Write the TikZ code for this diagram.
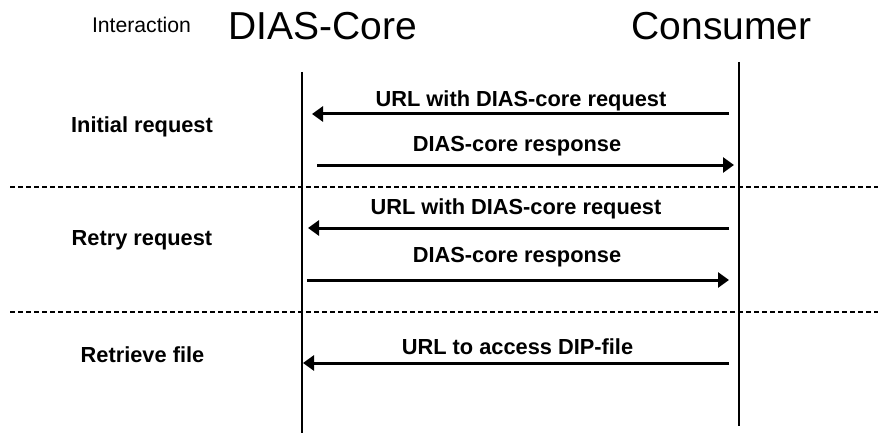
\documentclass[tikz,border=0pt]{standalone}
\usepackage{fontspec}
\setmainfont{Liberation Sans}
\usetikzlibrary{arrows.meta}
\begin{document}
\begin{tikzpicture}[x=1pt,y=-1pt,
  lifeline/.style={line width=2.2pt},
  msg/.style={line width=3pt,-{Triangle[length=11pt,width=15pt]}},
  sep/.style={line width=1.2pt,dash pattern=on 5pt off 3pt},
  msglabel/.style={anchor=base,inner sep=0pt,font=\fontsize{21.8}{26}\selectfont\bfseries},
  phaselabel/.style={anchor=base,inner sep=0pt,font=\fontsize{21.8}{26}\selectfont\bfseries},
  header/.style={anchor=base,inner sep=0pt,font=\fontsize{39}{46}\selectfont}]
\useasboundingbox (0,0) rectangle (878,433);
% headers
\node[anchor=base,inner sep=0pt,font=\fontsize{21.2}{25}\selectfont] (inter) at (141.5,33) {Interaction};
\node[header] (core) at (322.5,40) {DIAS-Core};
\node[header] (cons) at (721.5,40) {Consumer};
% lifelines
\coordinate (coreTop) at (302,72);
\coordinate (coreBot) at (302,433);
\coordinate (consTop) at (739,62);
\coordinate (consBot) at (739,426);
\draw[lifeline] (coreTop) -- (coreBot);
\draw[lifeline] (consTop) -- (consBot);
% separators
\coordinate (s1a) at (10,187); \coordinate (s1b) at (878,187);
\coordinate (s2a) at (10,312); \coordinate (s2b) at (878,312);
\draw[sep] (s1a) -- (s1b);
\draw[sep] (s2a) -- (s2b);
% phase labels
\node[phaselabel] (p1) at (142,133) {Initial request};
\node[phaselabel] (p2) at (142,245) {Retry request};
\node[phaselabel] (p3) at (142.5,362) {Retrieve file};
% messages
\coordinate (m1s) at (729,114); \coordinate (m1e) at (312,114);
\coordinate (m2s) at (317,165); \coordinate (m2e) at (734,165);
\coordinate (m3s) at (729,228); \coordinate (m3e) at (308,228);
\coordinate (m4s) at (307,280); \coordinate (m4e) at (729,280);
\coordinate (m5s) at (729,363); \coordinate (m5e) at (303,363);
\draw[msg] (m1s) -- (m1e);
\draw[msg] (m2s) -- (m2e);
\draw[msg] (m3s) -- (m3e);
\draw[msg] (m4s) -- (m4e);
\draw[msg] (m5s) -- (m5e);
\node[msglabel] (l1) at (521,107) {URL with DIAS-core request};
\node[msglabel] (l2) at (517,152) {DIAS-core response};
\node[msglabel] (l3) at (516,214) {URL with DIAS-core request};
\node[msglabel] (l4) at (517,262) {DIAS-core response};
\node[msglabel] (l5) at (517.5,354) {URL to access DIP-file};
\end{tikzpicture}
\end{document}
